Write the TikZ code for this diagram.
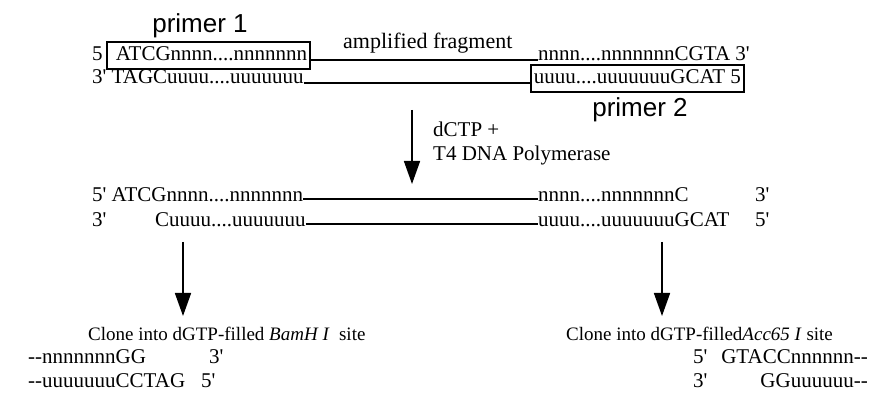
\documentclass[tikz,border=0pt]{standalone}
\usepackage{fontspec}
\setmainfont{Liberation Serif}
\newfontfamily\labelfont{Liberation Sans}
\usetikzlibrary{arrows.meta}
% straight prime mark for strand ends
\newcommand{\primetick}{\textquotesingle}

\begin{document}
\begin{tikzpicture}[x=1pt,y=-1pt,
  seq/.style={inner sep=0pt, anchor=base west, font=\fontsize{21}{21}\selectfont},
  seqr/.style={seq, anchor=base east},
  note/.style={inner sep=0pt, anchor=base west, font=\fontsize{19}{19}\selectfont},
  primerlabel/.style={inner sep=0pt, anchor=base, font=\labelfont\fontsize{26}{26}\selectfont},
  primerbox/.style={draw, line width=1.7pt, inner xsep=3pt, inner ysep=0pt,
    text height=19pt, text depth=8pt},
  strand/.style={line width=1.7pt},
  flow/.style={line width=1.6pt, -{Triangle[width=16pt,length=23pt]}},
]
\useasboundingbox (0,0) rectangle (878,395);

% primers annealed to the template
\node[primerlabel] (lab1) at (200,33) {primer 1};
\node[seq] (r1n) at (92,61) {5};
\node[seq, primerbox] (r1box) at (106,61) {\hspace{6pt}ATCGnnnn....nnnnnnn};
\node[seq] (r1r) at (538,61) {nnnn....nnnnnnnCGTA 3\primetick};
\node[seq, font=\fontsize{22}{22}\selectfont] (amp) at (343,49) {amplified fragment};
\draw[strand] ([yshift=1pt]r1box.base east) -- ([yshift=1pt]r1r.base west);

\node[seq] (r2l) at (92,84) {3\primetick{} TAGCuuuu....uuuuuuu};
\node[seq, primerbox] (r2box) at (530,84) {uuuu....uuuuuuuGCAT 5};
\node[primerlabel] (lab2) at (640,117) {primer 2};
\draw[strand] ([yshift=1pt]r2l.base east) -- ([yshift=1pt]r2box.base west);

% T4 polymerase step
\coordinate (a1s) at (412,110);
\coordinate (a1e) at (412,184);
\draw[flow] (a1s) -- (a1e);
\node[seq] (dctp) at (433,137) {dCTP +};
\node[seq] (t4) at (433,161) {T4 DNA Polymerase};

% chewed-back fragment
\node[seq] (r3l) at (92,202) {5\primetick{} ATCGnnnn....nnnnnnn};
\node[seq] (r3r) at (538,202) {nnnn....nnnnnnnC};
\node[seq] (r3e) at (755,202) {3\primetick};
\draw[strand] ([yshift=3pt]r3l.base east) -- ([yshift=3pt]r3r.base west);

\node[seq] (r4a) at (92,227) {3\primetick};
\node[seq] (r4l) at (155,227) {Cuuuu....uuuuuuu};
\node[seq] (r4r) at (538,227) {uuuu....uuuuuuuGCAT};
\node[seq] (r4e) at (755,227) {5\primetick};
\draw[strand] ([yshift=3pt]r4l.base east) -- ([yshift=3pt]r4r.base west);

% cloning into the two vector ends
\coordinate (b1s) at (183,242);
\coordinate (b1e) at (183,316);
\draw[flow] (b1s) -- (b1e);
\coordinate (b2s) at (662,242);
\coordinate (b2e) at (662,316);
\draw[flow] (b2s) -- (b2e);

\node[note] (clone1) at (88,341) {Clone into dGTP-filled \textit{BamH I}\ \ site};
\node[note] (clone2) at (566,341) {Clone into dGTP-filled\textit{Acc65 I} site};

\node[seq] (v1a) at (28,363) {-{}-nnnnnnnGG};
\node[seq] (v1b) at (209,363) {3\primetick};
\node[seq] (v2a) at (28,387) {-{}-uuuuuuuCCTAG};
\node[seq] (v2b) at (201,387) {5\primetick};

\node[seq] (w1a) at (693,363) {5\primetick};
\node[seqr] (w1b) at (868,363) {GTACCnnnnnn-{}-};
\node[seq] (w2a) at (693,387) {3\primetick};
\node[seqr] (w2b) at (868,387) {GGuuuuuu-{}-};
\end{tikzpicture}
\end{document}
